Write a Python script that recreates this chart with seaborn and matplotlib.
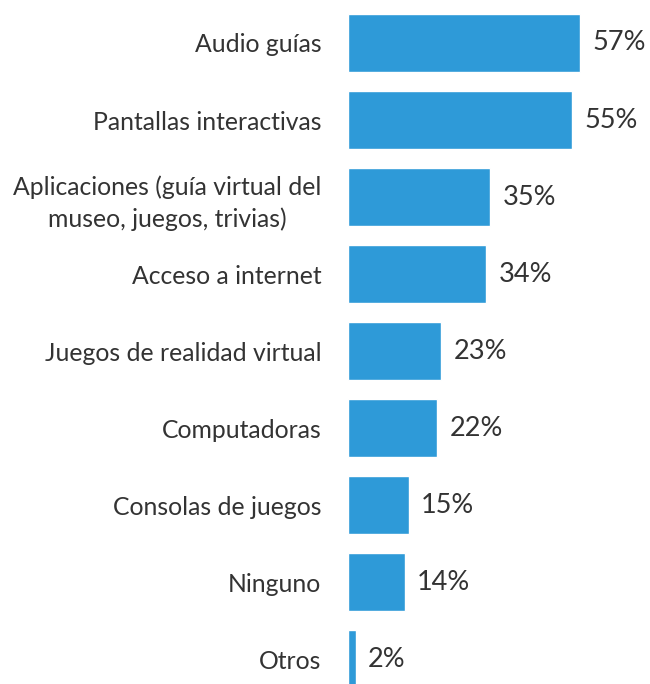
import seaborn as sns
import matplotlib.pyplot as plt
import pandas as pd

# categories and percentages
categorias = [
    "Audio guías",
    "Pantallas interactivas",
    "Aplicaciones (guía virtual del\nmuseo, juegos, trivias)",
    "Acceso a internet",
    "Juegos de realidad virtual",
    "Computadoras",
    "Consolas de juegos",
    "Ninguno",
    "Otros",
]
porcentajes = [57, 55, 35, 34, 23, 22, 15, 14, 2]

df = pd.DataFrame({"categoria": categorias, "pct": porcentajes})

sns.set_theme(style="white")
plt.rcParams['font.family'] = ['Lato', 'DejaVu Sans']

fig = plt.figure(figsize=(6.5, 6.84), dpi=100)
ax = fig.add_axes([0.535, 0.0, 0.465, 1.0])

sns.barplot(data=df, x="pct", y="categoria", orient="h", color="#2E9AD8",
            saturation=1, width=0.75, ax=ax)

ax.set_xlim(0, 74.2)
ax.set_ylim(8.32, -0.558)
ax.set_xlabel("")
ax.set_ylabel("")
ax.set_xticks([])
sns.despine(ax=ax, left=True, bottom=True)
ax.tick_params(axis="y", length=0, pad=19, labelsize=17.8, labelcolor="#333333")
for lbl in ax.get_yticklabels():
    lbl.set_multialignment("center")
    lbl.set_linespacing(1.4)

# value labels at the end of each bar
for i, v in enumerate(porcentajes):
    ax.text(v + 3.0, i, f"{v}%", va="center", ha="left",
            fontsize=19.5, color="#333333")

fig.savefig("out.png", dpi=100)
